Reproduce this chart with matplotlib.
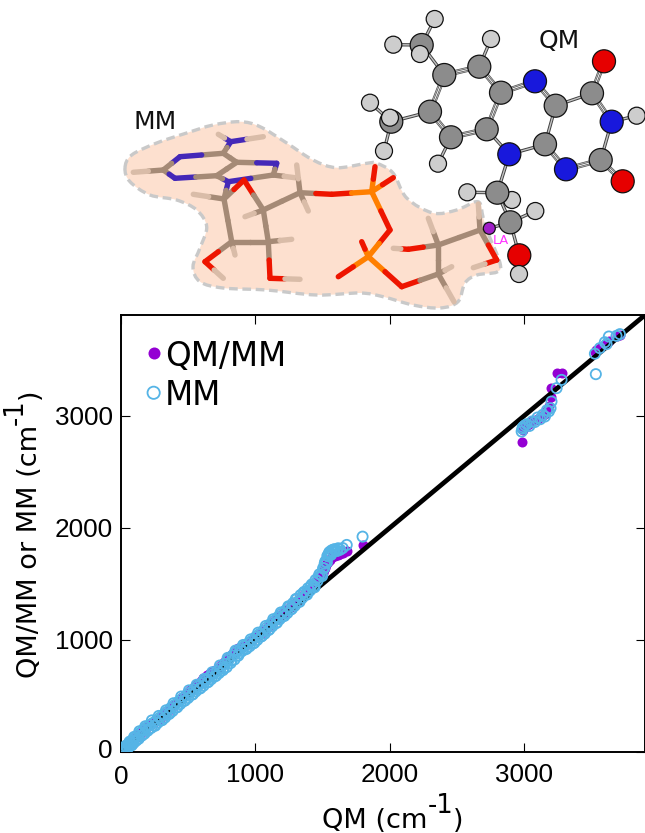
import matplotlib
matplotlib.use('Agg')
import matplotlib.pyplot as plt
from matplotlib.patches import Circle, PathPatch
from matplotlib.path import Path
from matplotlib.transforms import ScaledTranslation

# vibrational frequencies
qm_freq = [0, 4, 9, 14, 19, 25, 31, 38, 45, 52,
           60, 68, 76, 85, 94, 103, 112, 122, 132, 142,
           153, 164, 175, 187, 199, 211, 224, 236, 249, 262,
           275, 288, 301, 314, 328, 342, 356, 370, 384, 398,
           412, 427, 441, 455, 470, 484, 499, 513, 528, 542,
           556, 571, 585, 600, 614, 629, 643, 657, 672, 686,
           700, 715, 729, 744, 758, 773, 787, 802, 816, 830,
           845, 859, 873, 887, 902, 916, 930, 944, 958, 972,
           986, 1000, 1014, 1028, 1042, 1056, 1070, 1084, 1098, 1112,
           1126, 1140, 1154, 1168, 1182, 1196, 1210, 1224, 1238, 1252,
           1266, 1280, 1294, 1308, 1322, 1336, 1350, 1364, 1378, 1392,
           1406, 1420, 1434, 1448, 1462, 1476, 1490, 1504, 1512, 1520,
           1528, 1536, 1544, 1552, 1560, 1568, 1578, 1590, 1602, 1616,
           1632, 1650, 1680, 1798,
           2982, 2987, 2992, 3005, 3020, 3040, 3060, 3080, 3100, 3120,
           3140, 3155, 3170, 3185, 3197, 3204, 3242, 3279,
           3527, 3534, 3564, 3601, 3614, 3631, 3688, 3713]
qmmm_freq = [0, 4, 10, 16, 22, 29, 36, 44, 51, 59,
             72, 81, 90, 101, 111, 121, 132, 143, 155, 165,
             177, 190, 203, 216, 229, 240, 249, 257, 268, 280,
             290, 302, 315, 328, 343, 359, 376, 392, 408, 423,
             439, 456, 471, 487, 503, 518, 534, 550, 566, 581,
             596, 611, 626, 641, 656, 671, 686, 700, 712, 722,
             728, 740, 756, 775, 795, 815, 832, 850, 866, 880,
             896, 912, 924, 930, 934, 942, 956, 972, 988, 1000,
             1012, 1024, 1035, 1047, 1060, 1074, 1090, 1106, 1122, 1136,
             1152, 1168, 1184, 1200, 1215, 1228, 1240, 1252, 1266, 1282,
             1298, 1315, 1333, 1350, 1366, 1381, 1395, 1409, 1424, 1440,
             1458, 1476, 1494, 1512, 1530, 1552, 1574, 1600, 1622, 1645,
             1665, 1685, 1700, 1715, 1728, 1738, 1746, 1752, 1758, 1762,
             1766, 1774, 1790, 1845,
             2880, 2765, 2875, 2900, 2915, 2925, 2950, 2960, 2975, 2990,
             3005, 3020, 3050, 3085, 3170, 3247, 3381, 3381,
             3574, 3585, 3605, 3640, 3650, 3672, 3710, 3722]
mm_freq = [0, 14, 2, 26, 10, 38, 22, 52, 32, 68,
           50, 84, 62, 104, 80, 124, 100, 146, 118, 170,
           146, 194, 164, 218, 190, 238, 214, 258, 236, 280,
           262, 306, 284, 330, 308, 358, 338, 392, 366, 420,
           398, 448, 428, 476, 456, 504, 482, 530, 512, 556,
           540, 586, 566, 614, 592, 640, 622, 668, 650, 696,
           676, 722, 704, 752, 730, 786, 758, 826, 794, 860,
           826, 892, 860, 918, 902, 944, 918, 966, 944, 990,
           970, 1024, 1000, 1050, 1030, 1078, 1056, 1110, 1088, 1142,
           1122, 1172, 1150, 1204, 1186, 1234, 1214, 1262, 1240, 1294,
           1272, 1328, 1306, 1366, 1342, 1400, 1376, 1430, 1408, 1462,
           1440, 1496, 1480, 1536, 1526, 1586, 1580, 1640, 1640, 1700,
           1695, 1750, 1745, 1785, 1770, 1800, 1785, 1808, 1795, 1818,
           1806, 1820, 1848, 1922,
           2860, 2885, 2900, 2915, 2925, 2910, 2950, 2945, 2985, 2970,
           3010, 2994, 3050, 3040, 3068, 3128, 3247, 3321,
           3555, 3372, 3604, 3657, 3640, 3708, 3714, 3729]
# more MM rings inside the dense band
mm_band_qm = [8, 22, 35, 48, 64, 80, 98, 116, 137, 158,
              181, 205, 230, 255, 281, 307, 335, 363, 391, 419,
              448, 477, 506, 535, 563, 592, 621, 650, 679, 707,
              736, 765, 794, 823, 852, 880, 909, 937, 965, 993,
              1021, 1049, 1077, 1105, 1133, 1161, 1189, 1217, 1245, 1273,
              1301, 1329, 1357, 1385, 1413, 1441, 1469, 1497, 1516, 1532,
              1548, 1564, 1584, 1610]
mm_band_mm = [20, 10, 55, 30, 92, 60, 135, 110, 185, 150,
              230, 205, 282, 235, 322, 285, 372, 345, 435, 400,
              495, 460, 550, 515, 600, 570, 652, 625, 712, 680,
              772, 745, 840, 815, 905, 880, 955, 925, 1005, 975,
              1065, 1035, 1125, 1095, 1185, 1155, 1245, 1215, 1300, 1280,
              1365, 1340, 1420, 1405, 1480, 1470, 1560, 1570, 1680, 1690,
              1775, 1760, 1808, 1795]
diagonal = [0, 3900]
ticks = [0, 1000, 2000, 3000]

# molecule drawing, picture pixels
elem_col = {'C': '#8c8c8c', 'N': '#1818dc', 'O': '#e60000', 'H': '#cdcdcd', 'A': '#a020c8'}
elem_rad = {'C': 11.5, 'N': 11.5, 'O': 11.5, 'H': 8.5, 'A': 6}
qm_atoms = {
    'M2': ('C', 391.3, 121.7), 'H2a': ('H', 370, 102.7), 'H2c': ('H', 384, 151), 'H2b': ('H', 390, 117.7),
    'M1': ('C', 421.7, 45), 'H1a': ('H', 434.7, 19), 'H1b': ('H', 393.3, 44.7), 'H1c': ('H', 420, 54),
    'C1': ('C', 444.3, 75), 'C2': ('C', 479.3, 66.7), 'C3': ('C', 501, 92.7), 'C4': ('C', 486.7, 129.3),
    'C5': ('C', 451, 137.3), 'C6': ('C', 430, 111.7), 'H7': ('H', 491, 39), 'H8': ('H', 438, 163.7),
    'N5': ('N', 535, 81.3), 'C4a': ('C', 555.7, 105.7), 'C4o': ('C', 592, 93.3), 'O4': ('O', 604, 61.3),
    'N3': ('N', 611.7, 121.7), 'H3': ('H', 636.7, 115.7), 'C2o': ('C', 600.7, 160), 'O2': ('O', 622.7, 181.3),
    'N1': ('N', 566, 169.3), 'C10': ('C', 545, 144.3), 'N10': ('N', 509.3, 154.3),
    'Hr1': ('H', 512, 200), 'Hr2': ('H', 467.3, 192.3), 'R1': ('C', 497.3, 192.7), 'Hr3': ('H', 535.3, 211),
    'LA': ('A', 489.3, 228.3), 'R2': ('C', 510.3, 222.3), 'Or': ('O', 519.3, 255.3), 'Ho': ('H', 519, 274),
}
qm_single = [('C1', 'M1'), ('M1', 'H1a'), ('M1', 'H1b'), ('M1', 'H1c'), ('C6', 'M2'), ('M2', 'H2a'),
             ('M2', 'H2b'), ('M2', 'H2c'), ('C2', 'H7'), ('C5', 'H8'), ('C4a', 'C4o'), ('N3', 'H3'),
             ('N3', 'C2o'), ('C10', 'C4a'), ('C10', 'N10'), ('N10', 'C4'), ('N10', 'R1'), ('R1', 'Hr1'),
             ('R1', 'Hr2'), ('R1', 'R2'), ('R2', 'Hr3'), ('R2', 'LA'), ('R2', 'Or'), ('Or', 'Ho')]
qm_double = [('C1', 'C2'), ('C2', 'C3'), ('C3', 'C4'), ('C4', 'C5'), ('C5', 'C6'), ('C6', 'C1'),
             ('C3', 'N5'), ('N5', 'C4a'), ('C4o', 'O4'), ('C4o', 'N3'), ('C2o', 'O2'), ('C2o', 'N1'),
             ('N1', 'C10')]

stick_col = {'C': '#a58a76', 'N': '#4428b8', 'O': '#ee1500', 'P': '#ff7f00', 'H': '#d9bca8'}
mm_atoms = {
    'N6': ('N', 230.7, 141.7), 'H61': ('H', 218.3, 134.3), 'H62': ('H', 263.3, 136.7), 'C6': ('C', 223.3, 153.3),
    'N1': ('N', 180, 156.7), 'C2': ('C', 163.3, 170), 'H2': ('H', 133.3, 172.3), 'N3': ('N', 175, 178.3),
    'C4': ('C', 216.7, 175.7), 'C5': ('C', 236.7, 162.3), 'N7': ('N', 276.7, 163.3), 'C8': ('C', 273.3, 175),
    'H8': ('H', 295, 177.7), 'N9': ('N', 228.3, 181.7), 'C1r': ('C', 224, 199), 'H1r': ('H', 193.3, 194.3),
    'O4r': ('O', 244, 180), 'C4r': ('C', 263.3, 210), 'C3r': ('C', 268.3, 241.7), 'C2r': ('C', 231.7, 241.7),
    'O2r': ('O', 205, 261.7), 'HO2': ('H', 223.3, 278.3), 'H2r': ('H', 235, 255), 'O3r': ('O', 270, 278.3),
    'HO3': ('H', 300, 279.3), 'H3r': ('H', 291.7, 239.3), 'H4r': ('H', 245, 216.7), 'C5r': ('C', 300, 192.7),
    'H5a': ('H', 296.7, 165), 'H5b': ('H', 308.3, 211), 'O5r': ('O', 331.7, 194.3), 'P1': ('P', 371.7, 191.7),
    'O1a': ('O', 375, 166.7), 'O1b': ('O', 393.3, 177.7), 'Ob': ('O', 390, 230), 'P2': ('P', 368.3, 256.7),
    'O2a': ('O', 361.7, 241.7), 'O2b': ('O', 338.3, 276.7), 'O3b': ('O', 401.7, 286.7), 'Cs4': ('C', 438.3, 274),
    'Hs4a': ('H', 451.7, 266.7), 'Hs4b': ('H', 454, 301.7), 'Cs3': ('C', 438.3, 245), 'Os3': ('O', 408.3, 249.3),
    'Hos3': ('H', 393.3, 248.3), 'Hs3': ('H', 428.3, 218.3), 'Cs2': ('C', 480, 230), 'Hs2': ('H', 478.3, 204),
    'Os2': ('O', 496.7, 260), 'Hos2': ('H', 473.3, 267.7),
}
mm_bonds = [('N6', 'H61'), ('N6', 'H62'), ('N6', 'C6'), ('C6', 'N1'), ('N1', 'C2'), ('C2', 'H2'), ('C2', 'N3'),
            ('N3', 'C4'), ('C4', 'C5'), ('C5', 'C6'), ('C5', 'N7'), ('N7', 'C8'), ('C8', 'H8'), ('C8', 'N9'),
            ('N9', 'C4'), ('C1r', 'H1r'), ('N9', 'C1r'), ('C1r', 'C2r'), ('C2r', 'C3r'), ('C3r', 'C4r'),
            ('C2r', 'O2r'), ('O2r', 'HO2'), ('C2r', 'H2r'), ('C3r', 'O3r'), ('O3r', 'HO3'), ('C3r', 'H3r'),
            ('C4r', 'H4r'), ('C1r', 'O4r'), ('O4r', 'C4r'), ('C4r', 'C5r'), ('C5r', 'H5a'), ('C5r', 'H5b'),
            ('C5r', 'O5r'), ('O5r', 'P1'), ('P1', 'O1a'), ('P1', 'O1b'), ('P1', 'Ob'), ('Ob', 'P2'), ('P2', 'O2a'),
            ('P2', 'O2b'), ('P2', 'O3b'), ('O3b', 'Cs4'), ('Cs4', 'Hs4a'), ('Cs4', 'Hs4b'), ('Cs4', 'Cs3'),
            ('Cs3', 'Os3'), ('Os3', 'Hos3'), ('Cs3', 'Hs3'), ('Cs3', 'Cs2'), ('Cs2', 'Hs2'), ('Cs2', 'Os2'),
            ('Os2', 'Hos2')]
blob_x = [125, 131.7, 156.7, 186.7, 213, 240, 260, 286.7, 313, 336.7, 366.7, 376.7, 393, 406.7, 433, 456.7, 478,
          483, 488, 500, 497, 477, 465, 458, 440, 413, 383, 360, 316.7, 266.7, 223, 200, 193, 200, 206.7, 196.7,
          176.7, 150, 130]
blob_y = [168, 155, 143, 133, 125, 121.7, 126.7, 143, 160, 167.7, 163.3, 163.3, 173, 198, 213, 210, 201.7,
          217, 233, 263, 272, 275, 283, 301.7, 308, 305, 296.7, 293, 295, 290, 288, 281.7, 266.7, 248, 226.7, 210,
          200, 195, 181.7]


def smooth_closed(xs, ys):
    # catmull-rom through the outline points, as bezier pieces
    n = len(xs)
    verts = [(xs[0], ys[0])]
    codes = [Path.MOVETO]
    for i in range(n):
        x0, y0 = xs[i - 1], ys[i - 1]
        x1, y1 = xs[i], ys[i]
        x2, y2 = xs[(i + 1) % n], ys[(i + 1) % n]
        x3, y3 = xs[(i + 2) % n], ys[(i + 2) % n]
        verts += [(x1 + (x2 - x0) / 6, y1 + (y2 - y0) / 6), (x2 - (x3 - x1) / 6, y2 - (y3 - y1) / 6), (x2, y2)]
        codes += [Path.CURVE4] * 3
    return Path(verts, codes)


fig = plt.figure(figsize=(6.45, 8.33), dpi=100)

# chart
ax = fig.add_axes([121 / 645, (833 - 752) / 833, 524 / 645, 437 / 833])
ax.scatter(qm_freq, qmmm_freq, s=52, c='#9400d3', linewidths=0, zorder=2, label='QM/MM')
ax.plot(diagonal, diagonal, color='k', lw=3.4, zorder=3)
ax.scatter(qm_freq + mm_band_qm, mm_freq + mm_band_mm, s=54, facecolors='none', edgecolors='#55b4e6',
           linewidths=1.3, zorder=4, label='MM')
ax.set_xlim(0, 3900)
ax.set_ylim(0, 3900)
ax.set_xticks(ticks)
ax.set_yticks(ticks)
ax.tick_params(direction='in', length=6.5, width=0.8, top=True, right=True, labelsize=18.8)
ax.tick_params(axis='x', pad=8)
ax.tick_params(axis='y', pad=6)
for lab in ax.get_xticklabels() + ax.get_yticklabels():
    lab.set_family('Liberation Sans')
for s in ax.spines.values():
    s.set_linewidth(1.4)
# the two zero labels sit a little off in the original
x0_lab = ax.get_xticklabels()[0]
x0_lab.set_transform(x0_lab.get_transform() + ScaledTranslation(0, -2 / 100, fig.dpi_scale_trans))
y0_lab = ax.get_yticklabels()[0]
y0_lab.set_transform(y0_lab.get_transform() + ScaledTranslation(0, 3 / 100, fig.dpi_scale_trans))
ax.legend(loc='upper left', bbox_to_anchor=(0.0, 1.003), frameon=False, fontsize=23.5, markerscale=1.2,
          handlelength=0.4, handletextpad=0.15, labelspacing=0.2, borderpad=0.8, borderaxespad=0,
          scatteryoffsets=[0.55])

# molecule on top, pixel coordinates
mol = fig.add_axes([0, 0, 1, 1], facecolor='none')
mol.set_xlim(0, 645)
mol.set_ylim(833, 0)
mol.axis('off')

mol.add_patch(PathPatch(smooth_closed(blob_x, blob_y), facecolor='#fde0cf', edgecolor='#c9c9c9', lw=2.4,
                        linestyle=(0, (2.6, 1.4)), zorder=1))

for a, b in mm_bonds:
    ea, xa, ya = mm_atoms[a]
    eb, xb, yb = mm_atoms[b]
    xm, ym = (xa + xb) / 2, (ya + yb) / 2
    mol.plot([xa, xm], [ya, ym], color=stick_col[ea], lw=3.9, solid_capstyle='round', zorder=2)
    mol.plot([xm, xb], [ym, yb], color=stick_col[eb], lw=3.9, solid_capstyle='round', zorder=2)

for a, b in qm_single:
    _, xa, ya = qm_atoms[a]
    _, xb, yb = qm_atoms[b]
    mol.plot([xa, xb], [ya, yb], color='#404040', lw=2.4, zorder=3)
    mol.plot([xa, xb], [ya, yb], color='#c4c4c4', lw=1.0, zorder=3)
for a, b in qm_double:
    _, xa, ya = qm_atoms[a]
    _, xb, yb = qm_atoms[b]
    d = ((xb - xa) ** 2 + (yb - ya) ** 2) ** 0.5
    ox, oy = -(yb - ya) / d * 1.5, (xb - xa) / d * 1.5
    for sgn in [-1, 1]:
        mol.plot([xa + sgn * ox, xb + sgn * ox], [ya + sgn * oy, yb + sgn * oy], color='#505050', lw=1.5, zorder=3)
        mol.plot([xa + sgn * ox, xb + sgn * ox], [ya + sgn * oy, yb + sgn * oy], color='#c8c8c8', lw=0.5, zorder=3)

for k, name in enumerate(qm_atoms):
    e, x, y = qm_atoms[name]
    mol.add_patch(Circle((x, y), elem_rad[e], facecolor=elem_col[e], edgecolor='#111111', lw=0.9, zorder=4 + k * 0.01))

mol.text(155, 122, 'MM', fontsize=18, ha='center', va='center', color='#111111', zorder=6)
mol.text(559, 41, 'QM', fontsize=18, ha='center', va='center', color='#111111', zorder=6)
mol.text(501, 240, 'LA', fontsize=9.3, ha='center', va='center', color='#ff33ff', zorder=6)

# axis labels in pieces, the superscript is nearly full size
tx = mol.text(322, 827.5, 'QM (cm', fontsize=19.5, ha='left', va='baseline')
sx = mol.annotate('-1', xy=(1, 0), xycoords=tx, xytext=(0, 10.5), textcoords='offset points', fontsize=18.5,
                  ha='left', va='bottom', annotation_clip=False)
mol.annotate(')', xy=(1, 0), xycoords=(sx, tx), fontsize=19.5, ha='left', va='bottom', annotation_clip=False)
ty = mol.text(43, 678, 'QM/MM or MM (cm', fontsize=19.5, ha='right', va='bottom', rotation=90)
sy = mol.annotate('-1', xy=(1, 1), xycoords=ty, xytext=(-10.5, 0), textcoords='offset points', fontsize=18.5,
                  ha='right', va='bottom', rotation=90, annotation_clip=False)
mol.annotate(')', xy=(1, 1), xycoords=(ty, sy), fontsize=19.5, ha='right', va='bottom', rotation=90,
             annotation_clip=False)

fig.savefig('out.png', dpi=100)
